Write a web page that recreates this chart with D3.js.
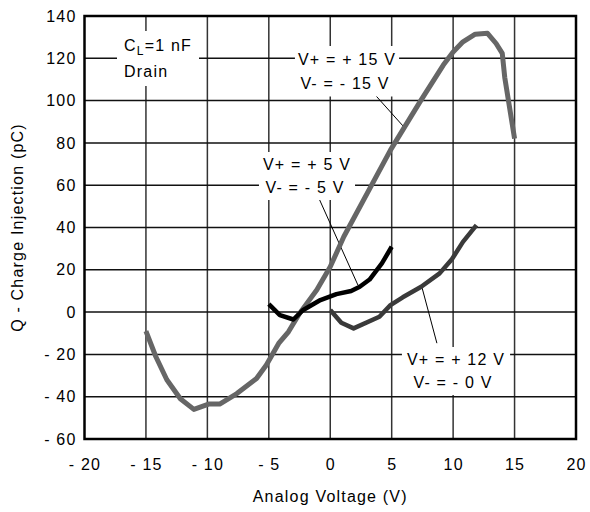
<!DOCTYPE html>
<html>
<head>
    <meta charset="utf-8">
    <style>
        body {
            margin: 0;
            background-color: #FFF;
        }
        text {
            font-family: "Liberation Sans", Arial, sans-serif;
            font-size: 16px;
            letter-spacing: 1.2px;
            fill: #000;
        }
    </style>
</head>
<body>
<div id="chartArea"></div>
<script src="https://d3js.org/d3.v7.min.js"></script>

<script>
    /* -----------------------------------
        data
    ----------------------------------- */
    var xTicks = [-20, -15, -10, -5, 0, 5, 10, 15, 20];
    var yTicks = [-60, -40, -20, 0, 20, 40, 60, 80, 100, 120, 140];

    // V+ = +15 V, V- = -15 V
    var v15 = [-15.0, -14.2, -13.3, -12.2, -11.1, -9.9, -9.0, -7.6, -6.0, -5.2, -4.2, -3.4, -2.5, -1.1, 0.0, 1.1, 4.9, 7.3, 9.2, 10.0, 10.8, 11.8, 12.8, 13.5, 14.0, 14.2, 15.0];
    var q15 = [-9, -21, -32, -41, -46, -43.5, -43.5, -38.5, -31.4, -25, -14.8, -9.3, -0.6, 10.4, 21.4, 35.6, 76.6, 99.4, 116.8, 123, 127.8, 131.4, 131.8, 127, 122.3, 111, 82];

    // V+ = +5 V, V- = -5 V
    var v5 = [-5.0, -4.1, -3.0, -2.2, -0.8, 0.5, 1.7, 2.4, 3.2, 4.2, 5.0];
    var q5 = [3.8, -1.4, -3.5, 1, 5.7, 8.5, 10, 12, 15.4, 23, 30.9];

    // V+ = +12 V, V- = 0 V
    var v12 = [0.0, 0.9, 1.9, 4.0, 4.9, 5.9, 7.4, 8.9, 9.9, 10.8, 11.9];
    var q12 = [1, -5, -7.7, -2.2, 3.3, 7, 12, 18.3, 25, 33.2, 41.1];

    /* -----------------------------------
        initialize
    ----------------------------------- */
    var width = 590, height = 512;
    var margin = {top: 16, right: 14, bottom: 73, left: 84.5},
        cWidth = width - margin.left - margin.right,
        cHeight = height - margin.top - margin.bottom;

    var svg = d3.select("#chartArea").append("svg")
        .attr("width", width)
        .attr("height", height);

    var x = d3.scaleLinear().domain([-20, 20]).range([margin.left, margin.left + cWidth]);
    var y = d3.scaleLinear().domain([-60, 140]).range([margin.top + cHeight, margin.top]);

    var fmt = function(d) { return d < 0 ? "- " + Math.abs(d) : "" + d; };

    /* -----------------------------------
        grid
    ----------------------------------- */
    svg.append("g").selectAll("line")
        .data(xTicks.slice(1, -1))
        .enter().append("line")
        .attr("x1", function(d) { return x(d); })
        .attr("x2", function(d) { return x(d); })
        .attr("y1", y(-60)).attr("y2", y(140))
        .attr("stroke", "#333").attr("stroke-width", 1.5);

    svg.append("g").selectAll("line")
        .data(yTicks.slice(1, -1))
        .enter().append("line")
        .attr("x1", x(-20)).attr("x2", x(20))
        .attr("y1", function(d) { return y(d); })
        .attr("y2", function(d) { return y(d); })
        .attr("stroke", "#111").attr("stroke-width", 1.5);

    /* -----------------------------------
        axes
    ----------------------------------- */
    var xAxis = svg.append("g")
        .attr("transform", "translate(0," + y(-60) + ")")
        .call(d3.axisBottom(x).tickValues(xTicks).tickFormat(fmt).tickSize(0).tickPadding(20));
    xAxis.select(".domain").remove();

    var yAxis = svg.append("g")
        .attr("transform", "translate(" + x(-20) + ",0)")
        .call(d3.axisLeft(y).tickValues(yTicks).tickFormat(fmt).tickSize(0).tickPadding(8));
    yAxis.select(".domain").remove();

    // let the stylesheet font apply to tick labels
    yAxis.attr("font-size", null).attr("font-family", null);
    xAxis.attr("font-size", null).attr("font-family", null);

    svg.append("text")
        .attr("x", (x(-20) + x(20)) / 2).attr("y", 502)
        .attr("text-anchor", "middle")
        .text("Analog Voltage (V)");

    svg.append("text")
        .attr("transform", "translate(23," + y(40) + ") rotate(-90)")
        .attr("text-anchor", "middle")
        .text("Q - Charge Injection (pC)");

    /* -----------------------------------
        labels with white boxes
    ----------------------------------- */
    function boxLabel(lines, cx, baselines, anchor, pad) {
        var g = svg.append("g");
        var rect = g.append("rect").attr("fill", "#FFF");
        var t = g.append("text").attr("text-anchor", anchor || "middle");
        lines.forEach(function(s, i) {
            var ln = t.append("tspan").attr("x", cx[i]).attr("y", baselines[i]);
            if (typeof s === "string") ln.text(s);
            else s(ln);
        });
        var b = t.node().getBBox();
        rect.attr("x", b.x - pad[0]).attr("y", b.y - pad[1])
            .attr("width", b.width + 2 * pad[0]).attr("height", b.height + 2 * pad[1]);
        return g;
    }

    // leader lines (under the boxes)
    var leaders = [
        [[3.45, 104], [6.0, 87.5]],
        [[-1.0, 54.8], [2.25, 12.8]],
        [[7.46, 11.8], [8.68, -14.7]]
    ];
    svg.append("g").selectAll("line")
        .data(leaders)
        .enter().append("line")
        .attr("x1", function(d) { return x(d[0][0]); })
        .attr("y1", function(d) { return y(d[0][1]); })
        .attr("x2", function(d) { return x(d[1][0]); })
        .attr("y2", function(d) { return y(d[1][1]); })
        .attr("stroke", "#000").attr("stroke-width", 1);

    boxLabel([
        function(ln) {
            ln.append("tspan").text("C");
            ln.append("tspan").attr("font-size", "12px").attr("dy", 4).text("L");
            ln.append("tspan").attr("dy", -4).text("=1 nF");
        },
        "Drain"
    ], [124, 124], [51, 77], "start", [7, 6]);

    boxLabel(["V+ = + 15 V", "V- = - 15 V"], [347, 345], [65, 88.5], "middle", [3, 5]);
    boxLabel(["V+ = + 5 V", "V- = - 5 V"], [307, 305], [170, 193], "middle", [4, 4]);
    boxLabel(["V+ = + 12 V", "V- = - 0 V"], [456, 453], [365, 388], "middle", [5, 4]);

    /* -----------------------------------
        curves
    ----------------------------------- */
    var line = d3.line()
        .x(function(d) { return x(d[0]); })
        .y(function(d) { return y(d[1]); });

    var series = [
        {v: v15, q: q15, color: "#666", w: 5},
        {v: v12, q: q12, color: "#3a3a3a", w: 4.5},
        {v: v5, q: q5, color: "#000", w: 4.5}
    ];

    svg.append("g").selectAll("path")
        .data(series)
        .enter().append("path")
        .attr("d", function(s) { return line(d3.zip(s.v, s.q)); })
        .attr("fill", "none")
        .attr("stroke", function(s) { return s.color; })
        .attr("stroke-width", function(s) { return s.w; })
        .attr("stroke-linejoin", "round");

    /* -----------------------------------
        frame
    ----------------------------------- */
    svg.append("rect")
        .attr("x", x(-20)).attr("y", y(140))
        .attr("width", x(20) - x(-20)).attr("height", y(-60) - y(140))
        .attr("fill", "none").attr("stroke", "#000").attr("stroke-width", 2.5);
</script>
</body>
</html>
